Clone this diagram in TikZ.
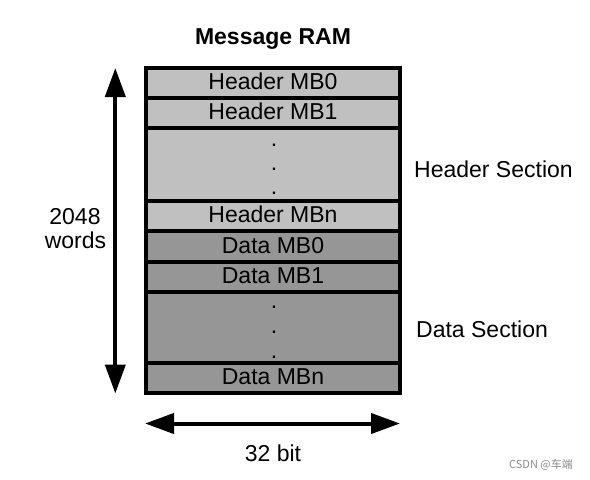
\documentclass[tikz,border=0pt]{standalone}
\usepackage{fontspec}
\setmainfont{Liberation Sans}
\newfontfamily\cjk{Noto Sans CJK SC}
\usetikzlibrary{arrows.meta}
\definecolor{hdr}{HTML}{C0C0C0}
\definecolor{dat}{HTML}{969696}
\begin{document}
\begin{tikzpicture}[x=1pt,y=-1pt,
  rowbox/.style={draw=black,line width=3.5pt,inner sep=0pt,outer sep=0pt,
    minimum width=254pt,anchor=north west,
    font=\fontsize{23}{27}\selectfont,text height=16pt,text depth=3pt},
  hrow/.style={rowbox,fill=hdr},
  drow/.style={rowbox,fill=dat},
  lbl/.style={inner sep=0pt,font=\fontsize{23}{27}\selectfont},
  dotlbl/.style={inner sep=0pt,anchor=base,font=\fontsize{23}{27}\selectfont},
  bigarrow/.style={line width=4pt,{Triangle[length=29pt,width=20pt]}-{Triangle[length=29pt,width=20pt]}}
]
\useasboundingbox (0,0) rectangle (590,480);
% rows
\node[hrow,minimum height=30pt] (h0) at (146,68) {Header MB0};
\node[hrow,minimum height=30pt] (h1) at (146,98) {Header MB1};
\node[hrow,minimum height=73pt] (hd) at (146,128) {};
\node[hrow,minimum height=30pt] (hn) at (146,201) {Header MBn};
\node[drow,minimum height=31pt] (d0) at (146,231) {Data MB0};
\node[drow,minimum height=30pt] (d1) at (146,262) {Data MB1};
\node[drow,minimum height=71pt] (dd) at (146,292) {};
\node[drow,minimum height=30pt] (dn) at (146,363) {Data MBn};
% dots
\node[dotlbl] (hdot1) at (274,146) {.};
\node[dotlbl] (hdot2) at (274,170) {.};
\node[dotlbl] (hdot3) at (274,194) {.};
\node[dotlbl] (ddot1) at (274,308) {.};
\node[dotlbl] (ddot2) at (274,333) {.};
\node[dotlbl] (ddot3) at (274,358) {.};
% title
\node[lbl,anchor=base,font=\fontsize{23}{27}\selectfont\bfseries] (title) at (273,44) {Message RAM};
% section labels
\node[lbl,anchor=base west] (hsec) at (414,177) {Header Section};
\node[lbl,anchor=base west] (dsec) at (416,337) {Data Section};
% left labels
\node[lbl,anchor=base] (w1) at (75,224) {2048};
\node[lbl,anchor=base] (w2) at (75.5,248) {words};
\node[lbl,anchor=base] (bits) at (273,461) {32 bit};
% arrows
\coordinate (vtop) at (115.3,68);
\coordinate (vbot) at (115.3,393.5);
\coordinate (hl) at (145,423.5);
\coordinate (hr) at (400,423.5);
\draw[bigarrow] (vtop) -- (vbot);
\draw[bigarrow] (hl) -- (hr);
% watermark
\node[inner sep=0pt,anchor=center,text=black!45,font=\cjk\fontsize{11}{13}\selectfont] (wm) at (541,465) {CSDN @车端};
\end{tikzpicture}
\end{document}
